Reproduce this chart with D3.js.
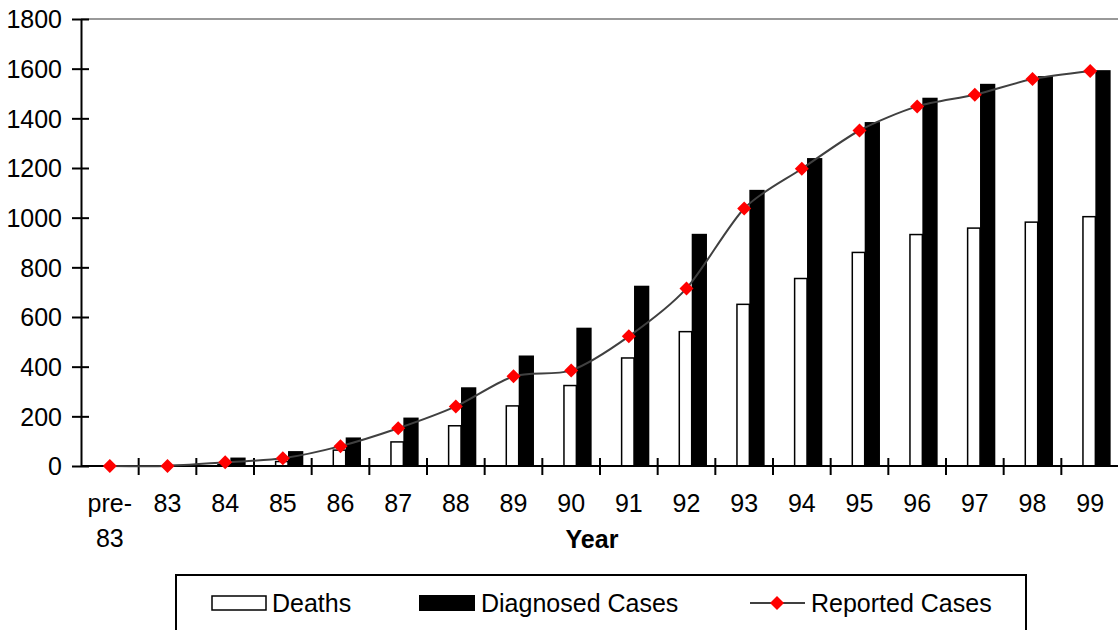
<!DOCTYPE html>
<html>
<head>
<meta charset="utf-8">
<script src="https://cdn.jsdelivr.net/npm/d3@7"></script>
<style>
  body { margin: 0; background: #fff; }
  text { font-family: "Liberation Sans", Arial, sans-serif; fill: #000; }
</style>
</head>
<body>
<div id="chart"></div>
<script>
// DATA ----------------------------------------------
const years = ["pre-83", "83", "84", "85", "86", "87", "88", "89", "90",
  "91", "92", "93", "94", "95", "96", "97", "98", "99"];
const deaths = [0, 0, 5, 18, 64, 97, 162, 242, 324, 435, 541, 651, 755, 860, 932, 958, 982, 1004];
const diagnosed = [0, 5, 34, 60, 115, 195, 317, 445, 557, 726, 935, 1112, 1240, 1385, 1483, 1539, 1570, 1594];
const reported = [0, 0, 15, 31, 80, 152, 240, 361, 385, 522, 715, 1037, 1197, 1351, 1448, 1495, 1558, 1591];
const yTicks = [0, 200, 400, 600, 800, 1000, 1200, 1400, 1600, 1800];

// CHART ---------------------------------------------
const width = 1118, height = 630;
const plotLeft = 81, plotRight = 1119, plotTop = 19, plotBottom = 466;
const fontSize = "25px";

const svg = d3.select("#chart").append("svg")
  .attr("width", width)
  .attr("height", height);

const x = d3.scaleBand().domain(years).range([plotLeft, plotRight]).padding(0);
const y = d3.scaleLinear().domain([0, 1800]).range([plotBottom, plotTop]);
const bw = x.bandwidth();
const cx = (d) => x(d) + bw / 2;

// top gridline
svg.append("line")
  .attr("x1", plotLeft).attr("x2", width)
  .attr("y1", y(1800)).attr("y2", y(1800))
  .attr("stroke", "#999").attr("stroke-width", 2);

// deaths bars (white)
svg.selectAll(".death")
  .data(years)
  .enter()
  .append("rect")
  .attr("class", "death")
  .attr("x", (d) => cx(d) - 0.125 * bw)
  .attr("width", 0.215 * bw)
  .attr("y", (d, i) => y(deaths[i]))
  .attr("height", (d, i) => y(0) - y(deaths[i]))
  .attr("fill", "#fff")
  .attr("stroke", "#000")
  .attr("stroke-width", 1.5);

// diagnosed bars (black)
svg.selectAll(".diag")
  .data(years)
  .enter()
  .append("rect")
  .attr("class", "diag")
  .attr("x", (d) => cx(d) + 0.09 * bw)
  .attr("width", 0.265 * bw)
  .attr("y", (d, i) => y(diagnosed[i]))
  .attr("height", (d, i) => y(0) - y(diagnosed[i]))
  .attr("fill", "#000");

// y axis
const yAxis = svg.append("g")
  .attr("transform", "translate(" + plotLeft + ",0)")
  .call(d3.axisLeft(y).tickValues(yTicks).tickFormat(d3.format("d"))
    .tickSize(0).tickPadding(19));
yAxis.select(".domain").attr("stroke", "#000").attr("stroke-width", 2);
yAxis.selectAll(".tick text")
  .style("font-size", fontSize)
  .style("font-family", "Liberation Sans, Arial, sans-serif")
  .attr("dy", "0.35em");
yAxis.selectAll(".tick")
  .append("line")
  .attr("x1", -9).attr("x2", 8)
  .attr("stroke", "#000").attr("stroke-width", 2);

// x axis
svg.append("line")
  .attr("x1", plotLeft).attr("x2", width)
  .attr("y1", plotBottom).attr("y2", plotBottom)
  .attr("stroke", "#000").attr("stroke-width", 2);

svg.selectAll(".xtick")
  .data(years.slice(1))
  .enter()
  .append("line")
  .attr("class", "xtick")
  .attr("x1", (d) => x(d)).attr("x2", (d) => x(d))
  .attr("y1", plotBottom - 8).attr("y2", plotBottom + 9)
  .attr("stroke", "#000").attr("stroke-width", 2);

const xLabels = svg.selectAll(".xlabel")
  .data(years)
  .enter()
  .append("text")
  .attr("class", "xlabel")
  .attr("text-anchor", "middle")
  .attr("x", (d) => cx(d))
  .attr("y", 512)
  .style("font-size", fontSize);
xLabels.each(function (d) {
  const t = d3.select(this);
  if (d === "pre-83") {
    t.append("tspan").attr("x", cx(d)).attr("y", 512).text("pre-");
    t.append("tspan").attr("x", cx(d)).attr("y", 547).text("83");
  } else {
    t.text(d);
  }
});

svg.append("text")
  .attr("x", 592)
  .attr("y", 548)
  .attr("text-anchor", "middle")
  .style("font-size", fontSize)
  .style("font-weight", "bold")
  .text("Year");

// reported line
const line = d3.line()
  .x((d, i) => cx(years[i]))
  .y((d) => y(d))
  .curve(d3.curveCardinal.tension(0.2));

svg.append("path")
  .datum(reported)
  .attr("d", line)
  .attr("fill", "none")
  .attr("stroke", "#404040")
  .attr("stroke-width", 2);

const diamond = "M0,-7L7,0L0,7L-7,0Z";
svg.selectAll(".mark")
  .data(reported)
  .enter()
  .append("path")
  .attr("class", "mark")
  .attr("d", diamond)
  .attr("transform", (d, i) => "translate(" + cx(years[i]) + "," + y(d) + ")")
  .attr("fill", "#ff0000");

// LEGEND --------------------------------------------
const legend = svg.append("g");
legend.append("rect")
  .attr("x", 176).attr("y", 575)
  .attr("width", 850).attr("height", 80)
  .attr("fill", "#fff")
  .attr("stroke", "#000").attr("stroke-width", 2);

legend.append("rect")
  .attr("x", 212).attr("y", 596).attr("width", 54).attr("height", 14)
  .attr("fill", "#fff").attr("stroke", "#000").attr("stroke-width", 1.5);
legend.append("text").attr("x", 272).attr("y", 612)
  .style("font-size", fontSize).text("Deaths");

legend.append("rect")
  .attr("x", 419).attr("y", 595).attr("width", 56).attr("height", 16)
  .attr("fill", "#000");
legend.append("text").attr("x", 481).attr("y", 612)
  .style("font-size", fontSize).text("Diagnosed Cases");

legend.append("line")
  .attr("x1", 750).attr("x2", 805).attr("y1", 603).attr("y2", 603)
  .attr("stroke", "#404040").attr("stroke-width", 2);
legend.append("path")
  .attr("d", diamond)
  .attr("transform", "translate(777,603)")
  .attr("fill", "#ff0000");
legend.append("text").attr("x", 811).attr("y", 612)
  .style("font-size", fontSize).text("Reported Cases");
</script>
</body>
</html>
